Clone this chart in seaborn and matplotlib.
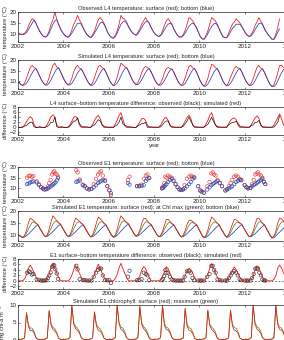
import numpy as np
import pandas as pd
import matplotlib
matplotlib.use('Agg')
import matplotlib.pyplot as plt
import seaborn as sns

# ---- data (monthly values, one row per year, Jan..Dec) ----
years = list(range(2002, 2014))

# L4 observed temperature (2013 ends in July)
l4_obs_surf = [
    [10.2, 10.0, 10.0, 10.5, 11.5, 13.5, 15.5, 17.0, 16.5, 15.0, 13.0, 11.5],
    [10.0, 9.0, 8.8, 9.5, 11.5, 14.5, 16.5, 20.0, 16.8, 14.5, 12.5, 11.0],
    [9.8, 9.0, 8.7, 9.8, 12.0, 14.5, 16.0, 18.5, 16.5, 15.0, 13.0, 11.2],
    [10.0, 9.0, 8.5, 9.8, 11.5, 14.0, 16.5, 17.5, 16.5, 15.0, 13.0, 10.8],
    [9.5, 8.6, 8.2, 9.5, 11.5, 14.5, 18.5, 17.0, 16.8, 15.5, 13.5, 12.0],
    [10.8, 10.0, 9.5, 10.8, 12.5, 14.5, 16.0, 17.5, 16.0, 15.0, 13.0, 11.5],
    [10.2, 9.5, 9.0, 9.5, 11.5, 14.0, 16.0, 17.0, 15.8, 14.5, 12.5, 10.8],
    [9.5, 8.8, 8.8, 9.8, 11.8, 14.5, 17.5, 17.0, 16.0, 14.5, 13.0, 11.0],
    [9.0, 8.0, 7.8, 9.5, 11.5, 14.5, 17.5, 16.8, 16.0, 14.5, 12.5, 10.5],
    [9.0, 8.5, 8.5, 10.5, 12.5, 14.5, 15.5, 17.0, 16.0, 15.0, 13.5, 12.0],
    [10.5, 9.5, 9.0, 10.0, 11.5, 14.0, 15.5, 17.5, 16.0, 14.5, 12.5, 11.0],
    [9.8, 8.8, 7.8, 7.8, 10.0, 13.0, 17.0],
]
l4_obs_bot = [
    [10.2, 10.0, 9.8, 10.0, 10.8, 12.0, 13.5, 15.0, 16.3, 15.0, 13.0, 11.2],
    [10.0, 9.0, 8.7, 9.2, 10.5, 12.5, 14.5, 16.0, 16.5, 14.5, 12.3, 10.8],
    [9.8, 9.0, 8.6, 9.3, 10.5, 12.0, 13.5, 14.8, 15.0, 14.5, 12.8, 11.0],
    [9.8, 9.0, 8.4, 9.2, 10.5, 12.0, 13.5, 15.0, 15.5, 14.5, 12.8, 10.7],
    [9.4, 8.5, 8.2, 9.0, 10.5, 12.5, 14.5, 15.5, 16.0, 15.0, 13.3, 11.8],
    [10.7, 10.0, 9.5, 10.2, 11.5, 13.0, 14.5, 15.5, 16.0, 14.8, 12.8, 11.4],
    [10.1, 9.4, 8.9, 9.3, 10.5, 12.0, 13.5, 14.5, 15.0, 14.3, 12.3, 10.7],
    [9.4, 8.7, 8.7, 9.3, 10.5, 12.0, 13.5, 14.5, 15.0, 14.3, 12.8, 10.9],
    [8.9, 7.9, 7.7, 8.8, 10.3, 12.0, 13.5, 14.5, 15.0, 14.2, 12.3, 10.4],
    [8.9, 8.4, 8.4, 9.5, 11.0, 12.5, 13.5, 14.5, 14.5, 14.5, 13.3, 11.8],
    [10.4, 9.4, 8.9, 9.3, 10.5, 12.0, 13.5, 14.8, 15.0, 14.3, 12.3, 10.9],
    [9.7, 8.7, 7.7, 7.7, 9.0, 11.0, 12.5],
]

# L4 simulated temperature
l4_sim_surf = [
    [9.6, 8.6, 8.2, 9.3, 11.5, 14.0, 16.5, 17.5, 16.5, 16.0, 14.4, 12.4],
    [10.6, 9.2, 8.3, 9.5, 12.0, 15.0, 17.5, 18.5, 16.8, 16.3, 14.6, 12.6],
    [10.7, 9.3, 8.4, 9.3, 11.5, 14.5, 16.5, 17.5, 16.2, 15.8, 14.3, 12.4],
    [10.6, 9.2, 8.2, 9.4, 11.8, 14.5, 17.0, 17.5, 16.5, 16.0, 14.4, 12.4],
    [10.4, 9.0, 8.1, 9.6, 12.0, 15.5, 18.5, 17.8, 16.8, 16.5, 14.8, 12.7],
    [10.8, 9.4, 8.5, 9.6, 11.5, 14.2, 16.0, 17.0, 16.4, 16.0, 14.4, 12.5],
    [10.6, 9.2, 8.3, 9.2, 11.2, 14.0, 16.0, 16.5, 16.0, 15.8, 14.3, 12.3],
    [10.4, 9.0, 8.2, 9.4, 11.6, 14.5, 17.0, 17.5, 16.3, 16.0, 14.4, 12.3],
    [10.2, 8.7, 7.8, 9.2, 11.5, 15.0, 18.0, 17.5, 16.4, 16.0, 14.3, 12.2],
    [10.2, 8.8, 8.0, 9.6, 11.8, 14.0, 16.0, 17.0, 16.3, 16.0, 14.4, 12.4],
    [10.5, 9.1, 8.2, 9.2, 11.3, 14.0, 16.5, 17.5, 16.2, 15.8, 14.2, 12.2],
    [10.2, 8.6, 7.6, 8.5, 10.8, 14.0, 17.5, 17.5, 16.5, 16.0, 14.4, 12.4],
]
l4_sim_bot = [
    [9.6, 8.6, 8.2, 8.4, 9.2, 10.6, 12.3, 14.0, 15.4, 16.0, 14.4, 12.4],
    [10.6, 9.2, 8.3, 8.4, 9.3, 10.8, 12.6, 14.4, 15.8, 16.3, 14.6, 12.6],
    [10.7, 9.3, 8.4, 8.4, 9.1, 10.5, 12.2, 13.9, 15.2, 15.8, 14.3, 12.4],
    [10.6, 9.2, 8.2, 8.3, 9.1, 10.5, 12.3, 14.0, 15.4, 16.0, 14.4, 12.4],
    [10.4, 9.0, 8.1, 8.3, 9.2, 10.8, 12.7, 14.5, 15.9, 16.5, 14.8, 12.7],
    [10.8, 9.4, 8.5, 8.6, 9.4, 10.8, 12.5, 14.2, 15.5, 16.0, 14.4, 12.5],
    [10.6, 9.2, 8.3, 8.3, 9.0, 10.4, 12.1, 13.8, 15.2, 15.8, 14.3, 12.3],
    [10.4, 9.0, 8.2, 8.3, 9.1, 10.6, 12.3, 14.0, 15.4, 16.0, 14.4, 12.3],
    [10.2, 8.7, 7.8, 7.9, 8.8, 10.4, 12.2, 14.0, 15.4, 16.0, 14.3, 12.2],
    [10.2, 8.8, 8.0, 8.2, 9.1, 10.6, 12.3, 14.0, 15.4, 16.0, 14.4, 12.4],
    [10.5, 9.1, 8.2, 8.2, 8.9, 10.3, 12.0, 13.8, 15.2, 15.8, 14.2, 12.2],
    [10.2, 8.6, 7.6, 7.6, 8.5, 10.2, 12.2, 14.0, 15.4, 16.0, 14.4, 12.4],
]

# E1 observed (irregular casts): time, surface, bottom
e1_obs_t = [
    2002.40, 2002.47, 2002.54, 2002.61, 2002.68, 2002.82, 2002.92, 2003.02, 2003.10, 2003.17,
    2003.25, 2003.32, 2003.38, 2003.44, 2003.50, 2003.55, 2003.60, 2003.65, 2003.71, 2003.77,
    2004.57, 2004.63, 2004.72, 2004.86, 2004.94, 2005.04, 2005.14, 2005.24, 2005.34, 2005.44,
    2005.53, 2005.60, 2005.67, 2005.74, 2005.84, 2005.94, 2006.03, 2006.10, 2006.85, 2006.92,
    2007.25, 2007.35, 2007.45, 2007.55, 2007.64, 2007.71, 2007.79, 2008.35, 2008.40, 2008.45,
    2008.50, 2008.55, 2008.62, 2008.70, 2008.78, 2008.86, 2008.95, 2009.04, 2009.12, 2009.20,
    2009.28, 2009.35, 2009.45, 2009.55, 2009.62, 2009.70, 2009.78, 2009.95, 2010.04, 2010.10,
    2010.20, 2010.35, 2010.45, 2010.53, 2010.59, 2010.65, 2010.72, 2010.80, 2010.90, 2011.00,
    2011.15, 2011.22, 2011.30, 2011.38, 2011.45, 2011.54, 2011.62, 2011.70, 2011.78, 2011.85,
    2012.00, 2012.08, 2012.15, 2012.25, 2012.32, 2012.40, 2012.47, 2012.53, 2012.59, 2012.65,
    2012.72, 2012.78, 2012.85, 2012.91,
]
e1_obs_surf = [
    15.0, 15.8, 16.0, 15.4, 15.8, 13.3, 12.0, 10.6, 10.0, 9.6,
    9.8, 11.0, 12.5, 14.0, 16.5, 17.5, 18.0, 17.0, 16.5, 15.5,
    18.5, 17.5, 14.2, 11.8, 11.2, 10.1, 9.6, 9.9, 12.0, 14.5,
    16.5, 17.5, 18.0, 16.0, 13.8, 11.2, 9.2, 7.0, 14.0, 15.5,
    11.2, 11.3, 11.8, 14.5, 16.0, 16.5, 15.0, 10.2, 11.0, 12.5,
    15.5, 15.0, 16.0, 15.5, 15.0, 13.7, 12.1, 10.6, 9.6, 9.3,
    9.6, 11.5, 14.5, 15.5, 16.0, 15.5, 15.2, 11.1, 9.1, 8.6,
    8.1, 11.0, 13.0, 17.0, 17.5, 16.5, 16.0, 14.0, 12.7, 11.1,
    9.1, 9.6, 11.0, 12.5, 14.0, 15.5, 16.0, 15.5, 14.5, 14.0,
    11.6, 10.6, 10.1, 10.3, 12.0, 14.0, 16.5, 17.0, 17.5, 16.5,
    16.0, 15.0, 13.2, 12.1,
]
e1_obs_bot = [
    12.0, 12.3, 12.8, 13.1, 13.3, 12.8, 11.6, 10.5, 9.9, 9.5,
    9.6, 10.0, 10.5, 10.9, 11.4, 11.9, 12.3, 12.8, 13.8, 14.8,
    13.0, 13.3, 13.6, 11.5, 11.0, 10.0, 9.5, 9.8, 10.5, 11.5,
    12.5, 13.0, 13.5, 14.0, 13.5, 11.0, 9.0, 7.8, 12.5, 11.8,
    11.0, 11.0, 11.2, 11.5, 13.5, 14.5, 14.8, 10.0, 10.3, 10.8,
    11.5, 12.0, 13.0, 14.0, 14.5, 13.5, 12.0, 10.5, 9.5, 9.2,
    9.5, 10.0, 11.0, 12.0, 13.0, 14.5, 15.0, 11.0, 9.0, 8.5,
    8.0, 9.5, 10.5, 11.5, 12.0, 12.5, 13.0, 13.5, 12.5, 11.0,
    9.0, 9.5, 10.0, 10.5, 11.0, 12.0, 13.0, 13.5, 14.0, 13.8,
    11.5, 10.5, 10.0, 10.2, 11.0, 11.5, 12.0, 12.5, 13.0, 13.5,
    14.0, 14.5, 13.0, 12.0,
]

# E1 simulated temperature
e1_sim_surf = [
    [10.0, 9.3, 9.0, 9.8, 12.0, 15.0, 17.0, 16.5, 15.8, 15.0, 14.3, 12.9],
    [11.6, 10.2, 9.3, 10.0, 12.5, 15.5, 18.0, 17.0, 16.0, 15.2, 14.5, 13.0],
    [11.7, 10.3, 9.4, 10.0, 12.0, 14.8, 17.0, 16.5, 15.8, 15.0, 14.3, 12.9],
    [11.6, 10.2, 9.2, 10.0, 12.2, 15.0, 17.5, 16.8, 15.9, 15.0, 14.3, 12.8],
    [11.4, 10.0, 9.1, 10.0, 12.3, 15.5, 18.0, 17.0, 16.0, 15.3, 14.6, 13.1],
    [11.8, 10.4, 9.5, 10.2, 12.0, 14.8, 16.8, 17.0, 15.8, 15.0, 14.3, 12.9],
    [11.6, 10.2, 9.3, 9.8, 11.5, 14.0, 16.5, 16.5, 15.6, 14.8, 14.2, 12.8],
    [11.5, 10.1, 9.2, 10.0, 11.8, 14.5, 16.0, 16.2, 15.6, 14.9, 14.3, 12.8],
    [11.3, 9.8, 8.9, 9.8, 12.0, 15.0, 17.5, 16.8, 15.8, 15.0, 14.2, 12.7],
    [11.4, 10.0, 9.1, 10.2, 12.2, 14.5, 16.5, 16.3, 15.6, 15.0, 14.4, 12.9],
    [11.6, 10.2, 9.3, 9.8, 11.6, 14.5, 16.8, 17.0, 15.8, 14.9, 14.2, 12.7],
    [11.3, 9.8, 8.8, 9.5, 11.5, 15.0, 17.0, 16.8, 15.9, 15.0, 14.3, 12.9],
]
e1_sim_chlmax = [
    [10.0, 9.3, 9.0, 9.6, 10.8, 12.4, 14.0, 15.2, 15.5, 14.8, 14.3, 12.9],
    [11.6, 10.2, 9.3, 9.8, 11.0, 12.8, 14.6, 15.6, 15.8, 15.0, 14.5, 13.0],
    [11.7, 10.3, 9.4, 9.8, 10.9, 12.5, 14.2, 15.3, 15.5, 14.8, 14.3, 12.9],
    [11.6, 10.2, 9.2, 9.7, 10.9, 12.6, 14.4, 15.4, 15.6, 14.8, 14.3, 12.8],
    [11.4, 10.0, 9.1, 9.7, 11.0, 12.9, 14.8, 15.7, 15.8, 15.1, 14.6, 13.1],
    [11.8, 10.4, 9.5, 10.0, 11.1, 12.7, 14.3, 15.4, 15.5, 14.8, 14.3, 12.9],
    [11.6, 10.2, 9.3, 9.6, 10.7, 12.3, 13.9, 15.0, 15.3, 14.6, 14.2, 12.8],
    [11.5, 10.1, 9.2, 9.7, 10.8, 12.4, 14.0, 15.0, 15.3, 14.7, 14.3, 12.8],
    [11.3, 9.8, 8.9, 9.5, 10.8, 12.5, 14.3, 15.3, 15.5, 14.8, 14.2, 12.7],
    [11.4, 10.0, 9.1, 9.8, 11.0, 12.5, 14.1, 15.1, 15.4, 14.8, 14.4, 12.9],
    [11.6, 10.2, 9.3, 9.6, 10.7, 12.4, 14.2, 15.3, 15.5, 14.7, 14.2, 12.7],
    [11.3, 9.8, 8.8, 9.3, 10.6, 12.5, 14.3, 15.3, 15.6, 14.8, 14.3, 12.9],
]
e1_sim_bot = [
    [10.0, 9.3, 9.0, 9.1, 9.7, 10.4, 11.2, 12.0, 12.8, 13.6, 14.3, 12.9],
    [11.6, 10.2, 9.3, 9.4, 10.0, 10.7, 11.5, 12.3, 13.1, 13.9, 14.5, 13.0],
    [11.7, 10.3, 9.4, 9.4, 10.0, 10.6, 11.4, 12.2, 13.0, 13.7, 14.3, 12.9],
    [11.6, 10.2, 9.2, 9.3, 9.9, 10.6, 11.4, 12.2, 13.0, 13.7, 14.3, 12.8],
    [11.4, 10.0, 9.1, 9.2, 9.9, 10.7, 11.6, 12.4, 13.3, 14.0, 14.6, 13.1],
    [11.8, 10.4, 9.5, 9.6, 10.2, 10.9, 11.6, 12.4, 13.1, 13.8, 14.3, 12.9],
    [11.6, 10.2, 9.3, 9.3, 9.9, 10.6, 11.3, 12.1, 12.9, 13.6, 14.2, 12.8],
    [11.5, 10.1, 9.2, 9.3, 9.9, 10.6, 11.4, 12.1, 12.9, 13.7, 14.3, 12.8],
    [11.3, 9.8, 8.9, 9.0, 9.6, 10.4, 11.2, 12.0, 12.8, 13.6, 14.2, 12.7],
    [11.4, 10.0, 9.1, 9.2, 9.9, 10.6, 11.4, 12.2, 13.0, 13.8, 14.4, 12.9],
    [11.6, 10.2, 9.3, 9.3, 9.9, 10.5, 11.3, 12.1, 12.9, 13.6, 14.2, 12.7],
    [11.3, 9.8, 8.8, 8.9, 9.6, 10.4, 11.2, 12.0, 12.8, 13.6, 14.3, 12.9],
]

# E1 simulated chlorophyll (mg chl-a m-3)
chl_surf = [
    [0.2, 0.2, 0.3, 0.6, 7.8, 4.0, 2.6, 2.8, 2.0, 0.6, 0.2, 0.1],
    [0.2, 0.2, 0.3, 0.6, 8.4, 4.2, 3.0, 2.6, 1.8, 0.5, 0.2, 0.1],
    [0.2, 0.2, 0.3, 0.7, 9.9, 4.5, 3.2, 2.8, 2.0, 0.6, 0.2, 0.1],
    [0.2, 0.2, 0.3, 0.6, 8.0, 4.0, 2.8, 2.5, 1.8, 0.5, 0.2, 0.1],
    [0.2, 0.2, 0.3, 0.7, 9.9, 4.6, 3.0, 2.7, 1.9, 0.6, 0.2, 0.1],
    [0.2, 0.2, 0.3, 0.7, 9.6, 4.4, 3.2, 2.6, 1.8, 0.5, 0.2, 0.1],
    [0.2, 0.2, 0.3, 0.7, 9.9, 4.2, 3.0, 2.8, 2.0, 0.6, 0.2, 0.1],
    [0.2, 0.2, 0.3, 0.6, 9.0, 4.0, 2.8, 2.6, 1.8, 0.5, 0.2, 0.1],
    [0.2, 0.2, 0.3, 0.6, 8.5, 4.2, 3.0, 2.5, 1.8, 0.5, 0.2, 0.1],
    [0.2, 0.2, 0.3, 0.6, 8.5, 4.0, 2.8, 2.6, 1.9, 0.5, 0.2, 0.1],
    [0.2, 0.2, 0.3, 0.7, 9.9, 4.5, 3.1, 2.7, 1.9, 0.6, 0.2, 0.1],
    [0.2, 0.2, 0.3, 0.7, 9.9, 4.4, 3.0, 2.8, 2.0, 0.6, 0.2, 0.1],
]
chl_max = [
    [0.2, 0.2, 0.3, 0.6, 7.8, 4.4, 3.4, 3.4, 2.4, 0.7, 0.2, 0.1],
    [0.2, 0.2, 0.3, 0.6, 8.4, 4.6, 3.6, 3.2, 2.2, 0.6, 0.2, 0.1],
    [0.2, 0.2, 0.3, 0.7, 9.9, 4.9, 3.8, 3.4, 2.4, 0.7, 0.2, 0.1],
    [0.2, 0.2, 0.3, 0.6, 8.0, 4.5, 3.6, 3.2, 2.3, 0.6, 0.2, 0.1],
    [0.2, 0.2, 0.3, 0.7, 9.9, 5.0, 3.7, 3.4, 2.4, 0.7, 0.2, 0.1],
    [0.2, 0.2, 0.3, 0.7, 9.6, 4.8, 3.8, 3.3, 2.2, 0.6, 0.2, 0.1],
    [0.2, 0.2, 0.3, 0.7, 9.9, 4.7, 3.7, 3.4, 2.4, 0.7, 0.2, 0.1],
    [0.2, 0.2, 0.3, 0.6, 9.0, 4.5, 3.5, 3.3, 2.3, 0.6, 0.2, 0.1],
    [0.2, 0.2, 0.3, 0.6, 8.5, 4.6, 3.7, 3.2, 2.3, 0.6, 0.2, 0.1],
    [0.2, 0.2, 0.3, 0.6, 8.5, 4.5, 3.6, 3.3, 2.4, 0.6, 0.2, 0.1],
    [0.2, 0.2, 0.3, 0.7, 9.9, 4.9, 3.8, 3.4, 2.4, 0.7, 0.2, 0.1],
    [0.2, 0.2, 0.3, 0.7, 9.9, 4.8, 3.7, 3.4, 2.4, 0.7, 0.2, 0.1],
]

xticks = [2002, 2004, 2006, 2008, 2010, 2012, 2014]

RED = '#f01414'
BLUE = '#2c3fb8'
GREEN = '#3a9a2a'


def monthly(rows):
    """rows of monthly values -> (decimal year, value) series"""
    t, v = [], []
    for yr, row in zip(years, rows):
        for m, val in enumerate(row):
            t.append(yr + (m + 0.5) / 12)
            v.append(val)
    return pd.DataFrame({'t': t, 'v': v})


def line(ax, df, color, lw=0.55):
    sns.lineplot(data=df, x='t', y='v', ax=ax, color=color, lw=lw,
                 estimator=None, sort=False, legend=False)


def circles(ax, df, y, color):
    sns.scatterplot(data=df, x='t', y=y, ax=ax, marker='o', s=6, facecolor='none',
                    edgecolor=color, linewidth=0.45, legend=False)


sns.set_style('ticks')
plt.rcParams['font.family'] = ['Liberation Sans', 'DejaVu Sans']
plt.rcParams['axes.linewidth'] = 0.5
plt.rcParams['xtick.major.width'] = 0.4
plt.rcParams['ytick.major.width'] = 0.4

fig = plt.figure(figsize=(2.84, 3.40), dpi=100)
W, H = 284, 340
X0, X1 = 18, 290   # axes left/right in px (right edge falls outside the crop)

FS_T = 4.1
FS_K = 4.5


def add_ax(top, bottom):
    ax = fig.add_axes([X0 / W, 1 - bottom / H, (X1 - X0) / W, (bottom - top) / H])
    return ax


def finish(ax, title, ylim, yticks, ylabel, xlabel=''):
    # labels set after seaborn, which otherwise writes its own column names
    ax.set_xlim(2002, 2014)
    ax.set_ylim(*ylim)
    ax.set_xticks(xticks)
    ax.set_yticks(yticks)
    ax.tick_params(direction='in', length=1.6, labelsize=FS_K, pad=1.2,
                   top=True, right=True)
    ax.set_title(title, fontsize=FS_T, pad=1.5, x=0.47)
    ax.set_ylabel(ylabel, fontsize=FS_T, labelpad=1.2)
    ax.set_xlabel(xlabel, fontsize=FS_T, labelpad=0.8)


tlab = 'temperature (°C)'
dlab = 'difference (°C)'

# 1. observed L4
ax1 = add_ax(12, 42)
line(ax1, monthly(l4_obs_surf), RED)
line(ax1, monthly(l4_obs_bot), BLUE)
finish(ax1, 'Observed L4 temperature: surface (red); bottom (blue)',
       (6.5, 20), [10, 15, 20], tlab)

# 2. simulated L4
ax2 = add_ax(60, 89)
line(ax2, monthly(l4_sim_surf), RED)
line(ax2, monthly(l4_sim_bot), BLUE)
finish(ax2, 'Simulated L4 temperature: surface (red); bottom (blue)',
       (6.5, 20), [10, 15, 20], tlab)

# 3. L4 difference
ax3 = add_ax(107, 135)
so, bo = monthly(l4_obs_surf), monthly(l4_obs_bot)
ss, bs = monthly(l4_sim_surf), monthly(l4_sim_bot)
line(ax3, pd.DataFrame({'t': ss['t'], 'v': ss['v'] - bs['v']}), RED, lw=0.6)
line(ax3, pd.DataFrame({'t': so['t'], 'v': so['v'] - bo['v']}), 'black', lw=0.45)
finish(ax3, 'L4 surface–bottom temperature difference: observed (black); simulated (red)',
       (-3, 8), [-2, 0, 2, 4, 6, 8], dlab, xlabel='year')

# 4. observed E1
ax4 = add_ax(167, 197)
e1 = pd.DataFrame({'t': e1_obs_t, 's': e1_obs_surf, 'b': e1_obs_bot})
circles(ax4, e1, 's', '#e83a3a')
circles(ax4, e1, 'b', '#2a44a8')
finish(ax4, 'Observed E1 temperature: surface (red); bottom (blue)',
       (6, 20), [10, 15, 20], tlab)

# 5. simulated E1
ax5 = add_ax(211, 241)
line(ax5, monthly(e1_sim_bot), BLUE)
line(ax5, monthly(e1_sim_chlmax), GREEN)
line(ax5, monthly(e1_sim_surf), RED)
finish(ax5, 'Simulated E1 temperature: surface (red); at Chl max (green); bottom (blue)',
       (7.5, 20), [10, 15, 20], tlab)

# 6. E1 difference
ax6 = add_ax(259, 289)
es, eb = monthly(e1_sim_surf), monthly(e1_sim_bot)
ax6.axhline(0, color='black', lw=0.4, ls=(0, (3, 3)))
line(ax6, pd.DataFrame({'t': es['t'], 'v': es['v'] - eb['v']}), RED, lw=0.6)
e1['d'] = e1['s'] - e1['b']
circles(ax6, e1, 'd', '#303030')
finish(ax6, 'E1 surface–bottom temperature difference: observed (black); simulated (red)',
       (-3, 8), [-2, 0, 2, 4, 6, 8], dlab)

# 7. chlorophyll
ax7 = add_ax(305, 340)
line(ax7, monthly(chl_max), GREEN)
line(ax7, monthly(chl_surf), RED)
finish(ax7, 'Simulated E1 chlorophyll: surface (red); maximum (green)',
       (0, 10), [0, 5, 10], 'mg chl-a m$^{-3}$')

fig.savefig('out.png', dpi=100)
